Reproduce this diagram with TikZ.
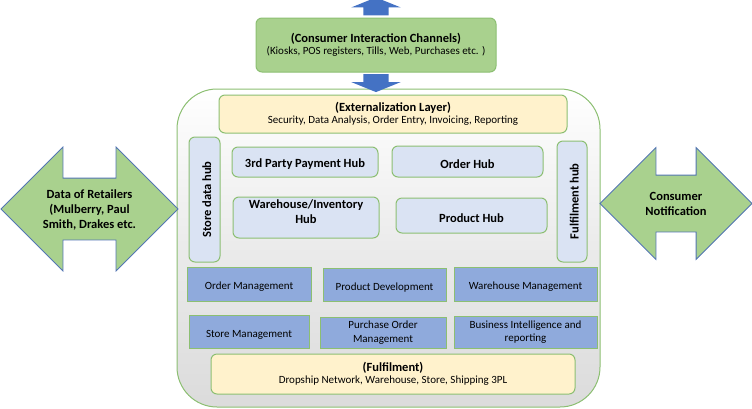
\documentclass[tikz,border=0pt]{standalone}
\usepackage{fontspec}
\setmainfont{Carlito}
\usetikzlibrary{shapes.arrows}
\definecolor{leafgreen}{HTML}{A9D18E}
\definecolor{edgegreen}{HTML}{8CBF72}
\definecolor{paleblue}{HTML}{DAE3F3}
\definecolor{midblue}{HTML}{8FAADC}
\definecolor{strongblue}{HTML}{4472C4}
\definecolor{cream}{HTML}{FFF2CC}
\tikzset{
	box/.style = {draw=edgegreen, line width=1pt, align=center, font=\fontsize{11}{13.5}\selectfont, inner sep=0pt, execute at begin node={\rule{0pt}{13.5pt}}},
	roundbox/.style = {box, rounded corners=6pt},
	layer/.style = {roundbox, fill=cream},
	hub/.style = {roundbox, fill=paleblue, font=\fontsize{12.5}{15}\selectfont\bfseries},
	module/.style = {box, fill=midblue},
	sidearrow/.style = {double arrow, draw=strongblue!75!gray, fill=leafgreen, line width=0.8pt, inner sep=0pt},
	arrowtext/.style = {align=center, font=\fontsize{12.5}{15}\selectfont\bfseries},
	flowarrow/.style = {single arrow, fill=strongblue, inner sep=0pt, single arrow tip angle=136, single arrow head extend=12pt, minimum height=18pt}
}
\begin{document}
\begin{tikzpicture}[x=1pt,y=-1pt]
	\useasboundingbox (0,0) rectangle (752,408);
	% outer frame
	\node[draw=edgegreen, line width=1pt, rounded corners=40pt, top color=white, bottom color=black!14, middle color=black!8, minimum width=423pt, minimum height=318pt] (core) at (388.5,248) {};
	% channels on top
	\node[flowarrow, rotate=90] (up) at (376,9) {\rule{0pt}{25pt}};
	\node[flowarrow, rotate=-90] (down) at (376,80.5) {\rule{0pt}{25pt}};
	\node[roundbox, fill=leafgreen, minimum width=240pt, minimum height=54pt] (channels) at (376,45) {\textbf{\fontsize{12.5}{15.5}\selectfont (Consumer Interaction Channels)}\\[-1pt](Kiosks, POS registers, Tills, Web, Purchases etc. )};
	% side arrows
	\node[sidearrow, double arrow head extend=31pt, minimum height=177pt, label={[arrowtext, yshift=-0.5pt]center:Data of Retailers\\(Mulberry, Paul\\Smith, Drakes etc.}] (retailers) at (89.5,209) {\rule{0pt}{61pt}};
	\node[sidearrow, double arrow head extend=27.5pt, minimum height=152pt, label={[arrowtext]center:Consumer\\Notification}] (notify) at (676,203.5) {\rule{0pt}{56pt}};
	% layers
	\node[layer, minimum width=348pt, minimum height=38pt] (extern) at (393,114) {\textbf{\fontsize{12.5}{15.5}\selectfont (Externalization Layer)}\\[-1pt]Security, Data Analysis, Order Entry, Invoicing, Reporting};
	\node[layer, minimum width=364pt, minimum height=40pt] (fulfil) at (393,374) {\textbf{\fontsize{12.5}{15.5}\selectfont (Fulfilment)}\\[-1pt]Dropship Network, Warehouse, Store, Shipping 3PL};
	% hubs
	\node[hub, rotate=90, minimum width=125pt, minimum height=31pt] (storehub) at (204.5,199.5) {Store data hub};
	\node[hub, rotate=90, minimum width=121pt, minimum height=30pt] (fulfilhub) at (572,201.5) {Fulfilment hub};
	\node[hub, minimum width=146pt, minimum height=30pt] (payhub) at (305,162) {3rd Party Payment Hub};
	\node[hub, minimum width=151pt, minimum height=31pt] (orderhub) at (467.5,161.5) {Order Hub};
	\node[hub, minimum width=146pt, minimum height=41pt] (stockhub) at (306,217.5) {Warehouse/Inventory\\Hub\rule[-12pt]{0pt}{1pt}};
	\node[hub, minimum width=151pt, minimum height=35pt] (producthub) at (471.5,215.5) {Product Hub};
	% modules
	\node[module, minimum width=124pt, minimum height=34pt] (ordermgmt) at (249,284) {Order Management};
	\node[module, minimum width=123pt, minimum height=33pt] (productdev) at (384.5,284.5) {Product Development};
	\node[module, minimum width=143pt, minimum height=34pt] (stockmgmt) at (525.5,284) {Warehouse Management};
	\node[module, minimum width=120pt, minimum height=33pt] (storemgmt) at (249,331.5) {Store Management};
	\node[module, minimum width=126pt, minimum height=31pt] (purchase) at (383,332.5) {Purchase Order\\Management};
	\node[module, minimum width=143pt, minimum height=32pt] (bizintel) at (525.5,332) {Business Intelligence and\\reporting};
\end{tikzpicture}
\end{document}
